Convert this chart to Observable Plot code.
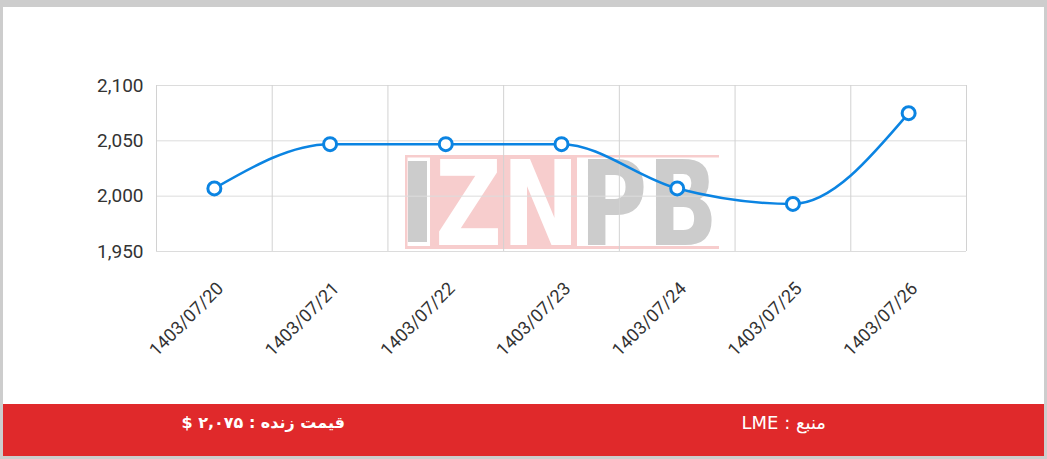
<!DOCTYPE html>
<html>
<head>
<meta charset="utf-8">
<script src="https://cdn.jsdelivr.net/npm/d3@7"></script>
<script src="https://cdn.jsdelivr.net/npm/@observablehq/plot@0.6"></script>
<style>
  html, body { margin: 0; padding: 0; }
  body { width: 1047px; height: 459px; background: #cdcdcd; position: relative; overflow: hidden; font-family: Roboto, "DejaVu Sans", sans-serif; }
  #card { position: absolute; left: 3px; top: 7px; width: 1041px; height: 397px; background: #fff; }
  #wm { position: absolute; left: 402px; top: 148px; overflow: visible; }
  #chart { position: absolute; left: 0; top: 0; }
  #footer { position: absolute; left: 3px; top: 404px; width: 1041px; height: 52px; background: #e0292b; color: #fff; display: flex; }
  #footer div { flex: 1; text-align: center; line-height: 20px; padding-top: 9px; direction: rtl; font-family: "DejaVu Sans", Roboto, sans-serif; }
  #footer .b { font-weight: bold; font-size: 16px; }
  #footer .r { font-size: 18px; }
</style>
</head>
<body>
<div id="card">
  <svg id="wm" width="316" height="96">
    <rect x="0" y="0" width="314" height="2.5" fill="#f7cdcd"/>
    <rect x="0" y="91" width="314" height="3" fill="#f7cdcd"/>
    <rect x="0" y="0" width="2.5" height="94" fill="#f7cdcd"/>
    <rect x="25" y="2" width="147" height="89" fill="#f7cdcd"/>
    <rect x="3" y="6" width="19" height="81" fill="#cccccc"/>
    <text x="30" y="90" font-family="DejaVu Sans" font-weight="bold" font-size="117" textLength="283" lengthAdjust="spacingAndGlyphs"><tspan fill="#ffffff">ZN</tspan><tspan fill="#cccccc">PB</tspan></text>
  </svg>
  <div id="chart"></div>
</div>
<div id="footer">
  <div class="b">قیمت زنده : ۲,۰۷۵ $</div>
  <div class="r">منبع : LME</div>
</div>
<script>
const dates = ["1403/07/20", "1403/07/21", "1403/07/22", "1403/07/23", "1403/07/24", "1403/07/25", "1403/07/26"];
const prices = [2007, 2047, 2047, 2047, 2007, 1993, 2075];
const yTicks = [1950, 2000, 2050, 2100];

const n = dates.length;
const data = dates.map((d, i) => ({i, date: d, price: prices[i]}));
const idx = d3.range(n);
const bounds = d3.range(n + 1).map(i => i - 0.5);
const blue = "#0b84e2";

const chart = Plot.plot({
  width: 1041,
  height: 397,
  marginLeft: 153,
  marginRight: 78,
  marginTop: 78,
  marginBottom: 153,
  style: {background: "transparent", fontFamily: "Roboto, sans-serif", fontSize: "18px", color: "#333"},
  x: {domain: [-0.5, n - 0.5]},
  y: {domain: [yTicks[0], yTicks[yTicks.length - 1]]},
  marks: [
    Plot.gridY(yTicks, {stroke: "#dcdcdc", strokeOpacity: 1}),
    Plot.ruleX(bounds, {stroke: "#d2d2d2"}),
    Plot.axisY(yTicks, {tickSize: 0, tickPadding: 13, tickFormat: d3.format(","), label: null, fontSize: 19, fill: "#333"}),
    Plot.axisX(idx, {tickSize: 0, tickPadding: 34, tickRotate: -45, tickFormat: i => dates[i], label: null, fontSize: 18, fill: "#333", dx: 6}),
    Plot.line(data, {x: "i", y: "price", curve: "monotone-x", stroke: blue, strokeWidth: 2.5}),
    Plot.dot(data, {x: "i", y: "price", r: 6.5, fill: "white", stroke: blue, strokeWidth: 3})
  ]
});
document.getElementById("chart").appendChild(chart);
</script>
</body>
</html>
